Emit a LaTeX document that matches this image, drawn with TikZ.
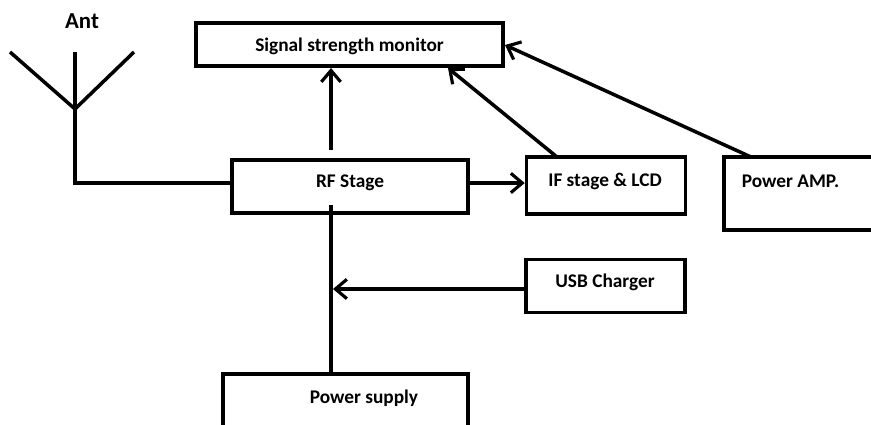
\documentclass[tikz,border=0pt]{standalone}
\usepackage{fontspec}
\setmainfont{Carlito}
\usetikzlibrary{arrows.meta}
\tikzset{
blk/.style={draw,line width=2pt,minimum width=#1,inner sep=0pt},
lbl/.style={font=\bfseries\fontsize{11pt}{13pt}\selectfont,inner sep=0pt},
wire/.style={line width=2pt},
feed/.style={line width=2pt,-{Straight Barb[length=6.5pt,width=11pt,line width=1.8pt]}}
}
\begin{document}
\begin{tikzpicture}[x=0.02cm,y=-0.02cm]
\useasboundingbox (0,0) rectangle (871,424);
\clip (0,0) rectangle (871,424);
\node[blk=307*0.02cm,minimum height=43*0.02cm] (signal) at (349.5,44.5) {};
\node[blk=236*0.02cm,minimum height=53*0.02cm] (rf) at (350,186.5) {};
\node[blk=159*0.02cm,minimum height=57*0.02cm] (ifs) at (606,185.5) {};
\node[blk=160*0.02cm,minimum height=73*0.02cm] (amp) at (804,193.5) {};
\node[blk=159*0.02cm,minimum height=53*0.02cm] (usb) at (605.5,286) {};
\node[blk=245*0.02cm,minimum height=100*0.02cm] (psu) at (345.5,424) {};
\node[lbl,font=\bfseries\fontsize{13pt}{15pt}\selectfont] (antlbl) at (82,21) {Ant};
\node[lbl] (signallbl) at (349.5,46) {Signal strength monitor};
\node[lbl] (rflbl) at (350,183) {RF Stage};
\node[lbl] (ifslbl) at (605,181) {IF stage \& LCD};
\node[lbl] (amplbl) at (790.5,181) {Power AMP.};
\node[lbl] (usblbl) at (605,282) {USB Charger};
\node[lbl] (psulbl) at (364,398) {Power supply};
\coordinate (tip) at (75,109);
\coordinate (left) at (10,52);
\coordinate (right) at (134,52);
\coordinate (top) at (75,52);
\coordinate (foot) at (75,183);
\coordinate (rfup) at (331,150);
\coordinate (sigin) at (331,68);
\coordinate (rflow) at (331,205);
\coordinate (psuin) at (331,374);
\coordinate (join) at (333,289);
\coordinate (ifsout) at (557,157);
\coordinate (sigifs) at (448,68);
\coordinate (ampout) at (751,157);
\coordinate (sigamp) at (505,45);
\draw[wire] (left) -- (tip) -- (right);
\draw[wire,line join=miter] (top) -- (foot) -- (rf.west |- foot);
\draw[feed] (rfup) -- (sigin);
\draw[feed] (rf.east |- 0,183) -- (ifs.west |- 0,183);
\draw[feed] (ifsout) -- (sigifs);
\draw[feed] (ampout) -- (sigamp);
\draw[feed] (usb.west |- join) -- (join);
\draw[wire] (rflow) -- (psuin);
\end{tikzpicture}
\end{document}
